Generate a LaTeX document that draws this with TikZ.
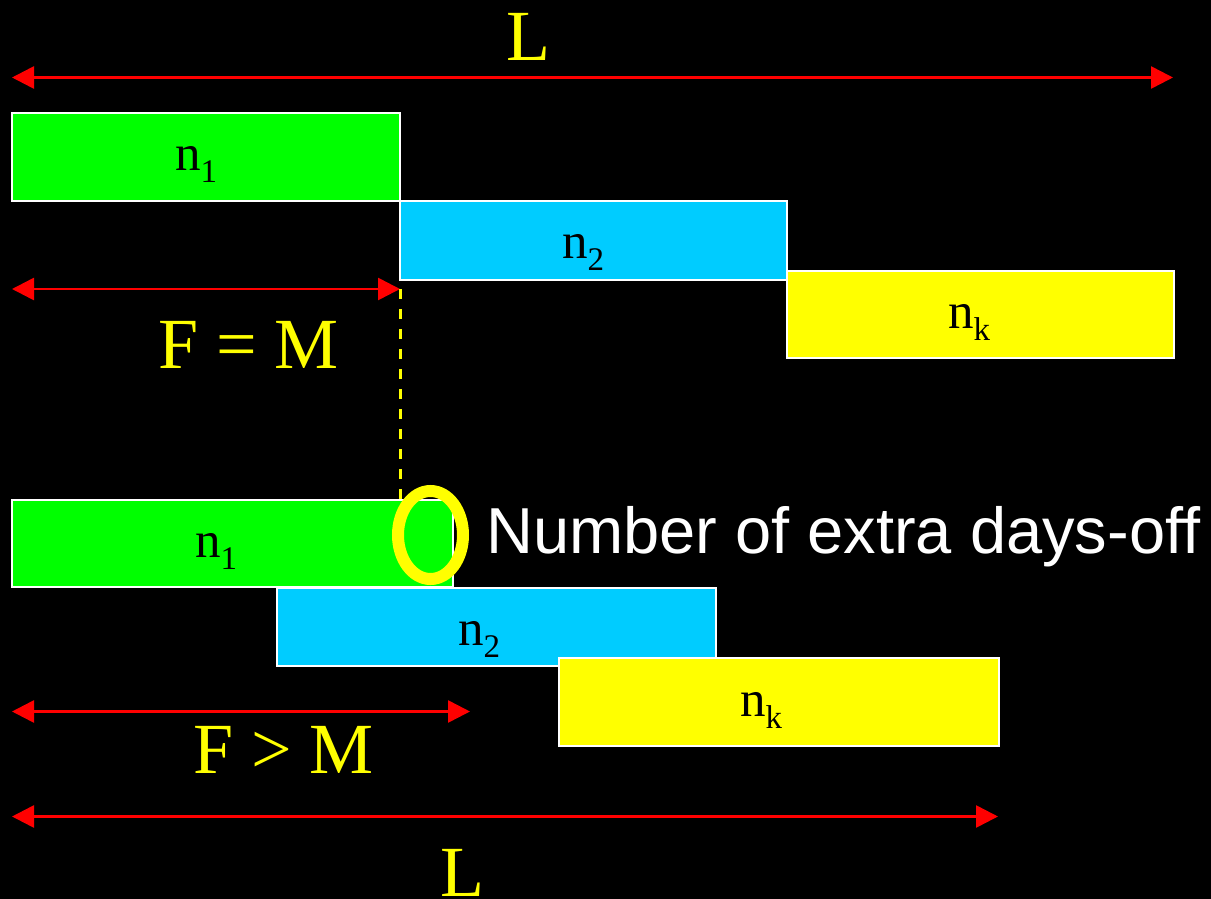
\documentclass[tikz,border=0pt]{standalone}
\usepackage{fontspec}
\setmainfont{Liberation Serif}
\newfontfamily\sansfont{Liberation Sans}
\usetikzlibrary{arrows.meta,shapes.geometric}
\definecolor{bgreen}{HTML}{00FF00}
\definecolor{bcyan}{HTML}{00CCFF}
\definecolor{byellow}{HTML}{FFFF00}
\definecolor{bred}{HTML}{FF0000}
\newcommand{\nsub}[1]{n\raisebox{-12pt}{\fontsize{33}{33}\selectfont #1}}
\tikzset{
  bar/.style={draw=white, line width=2pt, inner sep=0pt, outer sep=0pt},
  boxlabel/.style={anchor=base west, inner sep=0pt, text=black, font=\fontsize{51}{51}\selectfont},
  biglabel/.style={anchor=base west, inner sep=0pt, text=byellow, font=\fontsize{72}{72}\selectfont},
  dimarrow/.style={draw=bred, line width=2.6pt, {Triangle[length=22pt,width=22pt]}-{Triangle[length=22pt,width=22pt]}},
  guide/.style={draw=byellow, line width=3pt, dash pattern=on 10pt off 10pt}
}
\begin{document}
\begin{tikzpicture}[x=1pt,y=-1pt]
\fill[black] (0,0) rectangle (1211,899);
\useasboundingbox (0,0) rectangle (1211,899);

% top arrangement
\node[bar, fill=bgreen, minimum width=388pt, minimum height=88pt] (g1) at (206,156.5) {};
\node[bar, fill=bcyan, minimum width=387pt, minimum height=79pt] (c1) at (593.5,240.5) {};
\node[bar, fill=byellow, minimum width=387pt, minimum height=87pt] (y1) at (980.5,314.5) {};
\node[boxlabel] (tg1) at (175,170) {\nsub{1}};
\node[boxlabel] (tc1) at (562,258) {\nsub{2}};
\node[boxlabel] (ty1) at (948,328) {\nsub{k}};

% bottom arrangement
\node[bar, fill=bgreen, minimum width=441pt, minimum height=87pt] (g2) at (232.5,543.5) {};
\node[bar, fill=bcyan, minimum width=439pt, minimum height=78pt] (c2) at (496.5,627) {};
\node[bar, fill=byellow, minimum width=440pt, minimum height=88pt] (y2) at (778.5,702) {};
\node[boxlabel] (tg2) at (195,557) {\nsub{1}};
\node[boxlabel] (tc2) at (458,645) {\nsub{2}};
\node[boxlabel] (ty2) at (740,716) {\nsub{k}};

% dimension arrows
\coordinate (aL1) at (12,77.5);
\coordinate (aR1) at (1173,77.5);
\coordinate (aL2) at (12,289);
\coordinate (aR2) at (400,289);
\coordinate (aL3) at (12,711.5);
\coordinate (aR3) at (470,711.5);
\coordinate (aL4) at (12,816.5);
\coordinate (aR4) at (998,816.5);
\draw[dimarrow] (aL1) -- (aR1);
\draw[dimarrow] (aL2) -- (aR2);
\draw[dimarrow] (aL3) -- (aR3);
\draw[dimarrow] (aL4) -- (aR4);

% dashed guide
\coordinate (gd) at (400,499);
\draw[guide] (aR2) -- (gd);

% labels
\node[biglabel] (Ltop) at (506,61) {L};
\node[biglabel] (FeqM) at (158,368) {F = M};
\node[biglabel] (FgtM) at (193,773) {F > M};
\node[biglabel] (Lbot) at (440,896) {L};

% highlight ellipse and note
\node[ellipse, draw=byellow, line width=12pt, minimum width=65pt, minimum height=88pt, inner sep=0pt] (hl) at (430.5,535) {};
\node[anchor=base west, inner sep=0pt, text=white, font=\sansfont\fontsize{65}{65}\selectfont] (note) at (486,553) {Number of extra days-off};
\end{tikzpicture}
\end{document}
